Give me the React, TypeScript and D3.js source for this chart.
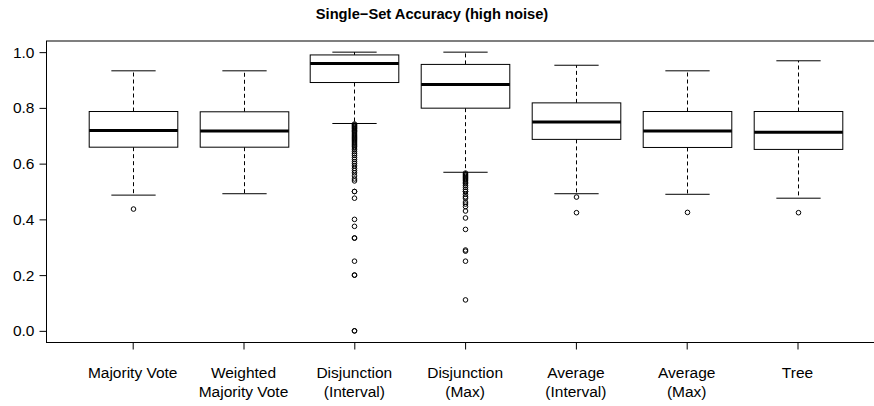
import React, { useEffect, useRef } from 'react';
import * as d3 from 'd3';

// categories (two-line labels)
const categories = [
  ['Majority Vote'],
  ['Weighted', 'Majority Vote'],
  ['Disjunction', '(Interval)'],
  ['Disjunction', '(Max)'],
  ['Average', '(Interval)'],
  ['Average', '(Max)'],
  ['Tree'],
];

// box stats
const lowerWhisker = [0.487, 0.492, 0.744, 0.569, 0.492, 0.490, 0.476];
const q1 = [0.659, 0.659, 0.891, 0.799, 0.687, 0.658, 0.651];
const medians = [0.719, 0.717, 0.959, 0.884, 0.749, 0.717, 0.713];
const q3 = [0.787, 0.786, 0.990, 0.956, 0.818, 0.787, 0.787];
const upperWhisker = [0.933, 0.933, 1.0, 1.0, 0.953, 0.933, 0.969];

const outliersMajority = [0.437];
const outliersWeighted: number[] = [];
const outliersDisjInterval = [
  0.742, 0.739, 0.736, 0.733, 0.73, 0.727, 0.724, 0.72, 0.717, 0.714, 0.71, 0.706,
  0.702, 0.698, 0.694, 0.69, 0.686, 0.682, 0.678, 0.674, 0.67, 0.666, 0.661, 0.656,
  0.65, 0.643, 0.636, 0.63, 0.622, 0.615, 0.607, 0.6, 0.592, 0.583, 0.575, 0.567,
  0.556, 0.545, 0.538, 0.5, 0.5, 0.476, 0.4, 0.375, 0.333, 0.333, 0.25, 0.2, 0.2, 0.0, 0.0,
];
const outliersDisjMax = [
  0.566, 0.562, 0.558, 0.554, 0.55, 0.546, 0.542, 0.538, 0.533, 0.528, 0.522, 0.515,
  0.507, 0.5, 0.5, 0.49, 0.481, 0.476, 0.462, 0.455, 0.446, 0.43, 0.405, 0.364,
  0.29, 0.286, 0.25, 0.111,
];
const outliersAvgInterval = [0.48, 0.424];
const outliersAvgMax = [0.425];
const outliersTree = [0.424];
const outliers = [
  outliersMajority, outliersWeighted, outliersDisjInterval, outliersDisjMax,
  outliersAvgInterval, outliersAvgMax, outliersTree,
];

const yTicks = [0, 0.2, 0.4, 0.6, 0.8, 1.0];
const title = 'Single\u2212Set Accuracy (high noise)';

const App = () => {
  const svgRef = useRef<SVGSVGElement>(null);

  useEffect(() => {
    const svgWidth = 874;
    const svgHeight = 406;
    const plot = { left: 46, right: 880, top: 41, bottom: 342 };
    const font = '"Liberation Sans", Arial, Helvetica, sans-serif';

    const svg = d3.select(svgRef.current)
      .attr('width', svgWidth)
      .attr('height', svgHeight)
      .html('');

    const y = d3.scaleLinear().domain([-0.04, 1.04]).range([plot.bottom, plot.top]);
    const x = d3.scalePoint<number>()
      .domain(d3.range(categories.length))
      .range([132.7, 797.5]);
    const boxW = 88.6;
    const capW = boxW / 2;

    svg.append('text')
      .attr('x', 432).attr('y', 19)
      .attr('text-anchor', 'middle')
      .style('font-family', font)
      .style('font-size', '14.7px')
      .style('font-weight', 'bold')
      .text(title);

    // frame
    svg.append('rect')
      .attr('x', plot.left + 0.5).attr('y', plot.top)
      .attr('width', plot.right - plot.left)
      .attr('height', plot.bottom - plot.top + 0.5)
      .attr('fill', 'none').attr('stroke', '#000');

    // y axis
    const yAxis = svg.append('g').attr('transform', `translate(${plot.left + 0.5},0)`)
      .call(d3.axisLeft(y).tickValues(yTicks).tickSize(7).tickPadding(5).tickFormat(d3.format('.1f')));
    yAxis.select('.domain').remove();
    yAxis.selectAll('text').style('font-family', font).style('font-size', '15.5px').attr('fill', '#000');
    yAxis.selectAll('line').attr('stroke', '#000');

    // x ticks + labels
    const xAxis = svg.append('g').attr('transform', `translate(0,${plot.bottom + 0.5})`)
      .call(d3.axisBottom(x).tickSize(7).tickFormat(() => ''));
    xAxis.select('.domain').remove();
    xAxis.selectAll('line').attr('stroke', '#000');

    categories.forEach((lines, i) => {
      const t = svg.append('text')
        .attr('text-anchor', 'middle')
        .style('font-family', font)
        .style('font-size', '15.5px');
      lines.forEach((ln, j) => {
        t.append('tspan').attr('x', x(i)!).attr('y', 378 + j * 19).text(ln);
      });
    });

    const g = svg.append('g');
    categories.forEach((_, i) => {
      const cx = Math.round(x(i)!) + 0.5;
      // whiskers
      g.append('line')
        .attr('x1', cx).attr('x2', cx)
        .attr('y1', y(q3[i])).attr('y2', y(upperWhisker[i]))
        .attr('stroke', '#000').attr('stroke-dasharray', '4,3');
      g.append('line')
        .attr('x1', cx).attr('x2', cx)
        .attr('y1', y(q1[i])).attr('y2', y(lowerWhisker[i]))
        .attr('stroke', '#000').attr('stroke-dasharray', '4,3');
      g.append('line')
        .attr('x1', cx - capW / 2).attr('x2', cx + capW / 2)
        .attr('y1', y(upperWhisker[i])).attr('y2', y(upperWhisker[i]))
        .attr('stroke', '#000');
      g.append('line')
        .attr('x1', cx - capW / 2).attr('x2', cx + capW / 2)
        .attr('y1', y(lowerWhisker[i])).attr('y2', y(lowerWhisker[i]))
        .attr('stroke', '#000');
      // box
      g.append('rect')
        .attr('x', cx - boxW / 2).attr('y', y(q3[i]))
        .attr('width', boxW).attr('height', y(q1[i]) - y(q3[i]))
        .attr('fill', '#fff').attr('stroke', '#000');
      g.append('line')
        .attr('x1', cx - boxW / 2).attr('x2', cx + boxW / 2)
        .attr('y1', y(medians[i])).attr('y2', y(medians[i]))
        .attr('stroke', '#000').attr('stroke-width', 3);
      // outliers
      g.selectAll(null)
        .data(outliers[i])
        .enter()
        .append('circle')
        .attr('cx', cx).attr('cy', d => y(d))
        .attr('r', 2.3)
        .attr('fill', 'none').attr('stroke', '#000').attr('stroke-width', 1);
    });
  }, []);

  return <svg ref={svgRef} style={{ position: 'absolute', left: 0, top: 0, background: '#fff' }} />;
};

export default App;
